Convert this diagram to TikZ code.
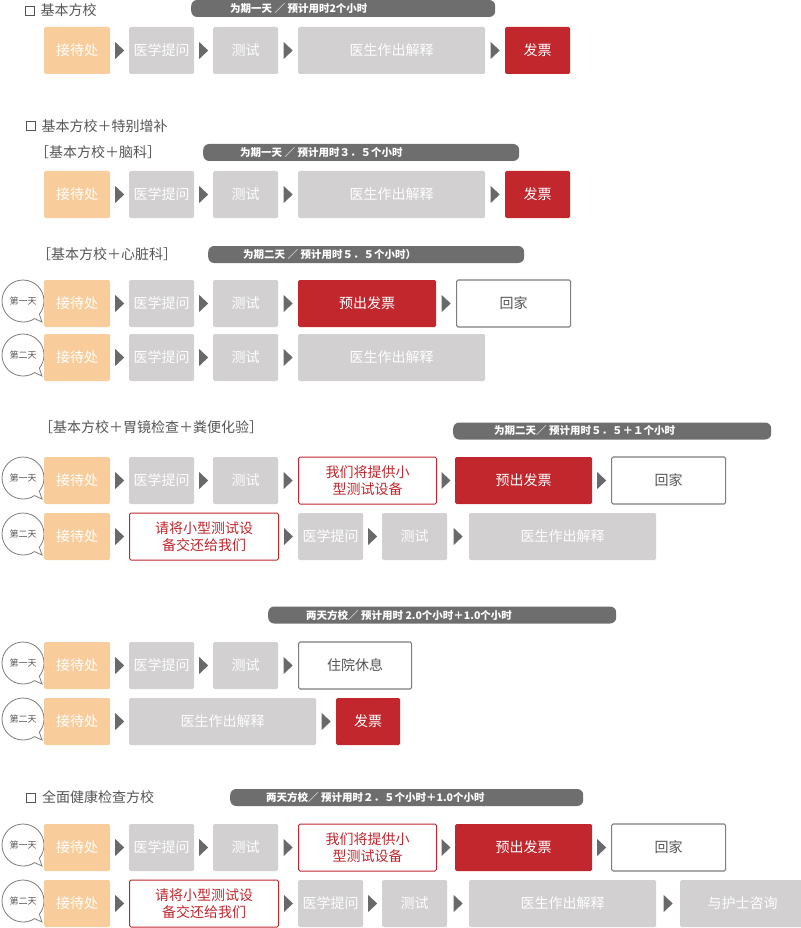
\documentclass[tikz,border=0pt]{standalone}
\usepackage{fontspec}
\setmainfont{Noto Sans CJK SC}
\usetikzlibrary{positioning, calc, shapes.callouts, decorations.markings}
\definecolor{peach}{RGB}{248,205,155}
\definecolor{boxgray}{RGB}{210,208,209}
\definecolor{invred}{RGB}{193,39,45}
\definecolor{pillgray}{RGB}{110,110,110}
\definecolor{tipgray}{RGB}{105,105,105}
\definecolor{framegray}{RGB}{125,125,125}
\definecolor{inkgray}{RGB}{85,85,85}

\begin{document}
\begin{tikzpicture}[x=1pt, y=-1pt,
    box/.style={rectangle, rounded corners=1.5pt, anchor=west, minimum height=47pt, inner sep=0pt, align=center, text=white, font=\fontsize{14}{16.5}\selectfont},
    recep/.style={box, fill=peach, minimum width=66pt},
    exam/.style={box, fill=boxgray},
    invoice/.style={box, fill=invred},
    homebox/.style={box, fill=white, draw=framegray, line width=1.1pt, text=inkgray},
    notebox/.style={box, fill=white, draw=invred, line width=1pt, text=invred},
    pill/.style={rectangle, rounded corners=6pt, fill=pillgray, anchor=west, minimum height=17pt, inner sep=0pt},
    pilltext/.style={anchor=west, inner sep=0pt, text=white, font=\fontsize{10.5}{12}\selectfont\bfseries},
    chk/.style={rectangle, draw=inkgray, line width=0.9pt, minimum size=9pt, inner sep=0pt},
    heading/.style={inner sep=0pt, text=inkgray, font=\fontsize{14}{16}\selectfont},
    daybubble/.style={ellipse callout, draw=framegray, fill=white, line width=0.8pt, minimum width=42pt, minimum height=42pt, inner sep=0pt, callout absolute pointer={(42,#1)}, callout pointer arc=18, text=inkgray, font=\fontsize{9}{10}\selectfont},
    arrow/.style={decoration={markings, mark=at position 0.5 with {\fill[tipgray] (-4.5pt,-8.5pt) -- (4.5pt,0pt) -- (-4.5pt,8.5pt) -- cycle;}}, decorate}
]
    \useasboundingbox (0,0) rectangle (800,928);

    % basic plan
    \node[chk] (h1) at (29.5,10.5) {};
    \node[heading, right=6pt of h1] {基本方校};
    \node[pill, minimum width=304pt] (p1) at (191,8.5) {};
    \node[pilltext] at ($(p1.west)+(39,0)$) {为期一天 ／ 预计用时2个小时};
    \node[recep] (aRec) at (44,50.5) {接待处};
    \node[exam, minimum width=65pt] (aAsk) at (129,50.5) {医学提问};
    \node[exam, minimum width=65pt] (aTest) at (213,50.5) {测试};
    \node[exam, minimum width=187pt] (aDoc) at (298,50.5) {医生作出解释};
    \node[invoice, minimum width=65pt] (aInv) at (505,50.5) {发票};
    \foreach \u/\v in {aRec/aAsk, aAsk/aTest, aTest/aDoc, aDoc/aInv}
        \path[arrow] (\u) -- (\v);

    % basic plan + brain
    \node[chk] (h2) at (30.5,126) {};
    \node[heading, right=6pt of h2] {基本方校＋特别增补};
    \node[heading, anchor=west] (h2a) at (35,152) {［基本方校＋脑科］};
    \node[pill, minimum width=316pt] (p2) at (203,152.5) {};
    \node[pilltext] at ($(p2.west)+(37,0)$) {为期一天 ／ 预计用时３．５个小时};
    \node[recep] (bRec) at (44,194.5) {接待处};
    \node[exam, minimum width=65pt] (bAsk) at (129,194.5) {医学提问};
    \node[exam, minimum width=65pt] (bTest) at (213,194.5) {测试};
    \node[exam, minimum width=187pt] (bDoc) at (298,194.5) {医生作出解释};
    \node[invoice, minimum width=65pt] (bInv) at (505,194.5) {发票};
    \foreach \u/\v in {bRec/bAsk, bAsk/bTest, bTest/bDoc, bDoc/bInv}
        \path[arrow] (\u) -- (\v);

    % basic plan + heart
    \node[heading, anchor=west] (h3a) at (37,254) {［基本方校＋心脏科］};
    \node[pill, minimum width=316pt] (p3) at (208,254.5) {};
    \node[pilltext] at ($(p3.west)+(35,0)$) {为期二天 ／ 预计用时５．５个小时）};
    \node[daybubble=322] (cDay1) at (23,301) {第一天};
    \node[recep] (cRec1) at (44,303.5) {接待处};
    \node[exam, minimum width=65pt] (cAsk1) at (129,303.5) {医学提问};
    \node[exam, minimum width=65pt] (cTest1) at (213,303.5) {测试};
    \node[invoice, minimum width=138pt] (cPre1) at (298,303.5) {预出发票};
    \node[homebox, minimum width=114pt] (cHome1) at (456,303.5) {回家};
    \node[daybubble=376] (cDay2) at (23,355) {第二天};
    \node[recep] (cRec2) at (44,357.5) {接待处};
    \node[exam, minimum width=65pt] (cAsk2) at (129,357.5) {医学提问};
    \node[exam, minimum width=65pt] (cTest2) at (213,357.5) {测试};
    \node[exam, minimum width=187pt] (cDoc2) at (298,357.5) {医生作出解释};
    \foreach \u/\v in {cRec1/cAsk1, cAsk1/cTest1, cTest1/cPre1, cPre1/cHome1,
                       cRec2/cAsk2, cAsk2/cTest2, cTest2/cDoc2}
        \path[arrow] (\u) -- (\v);

    % basic plan + gastroscopy + stool test
    \node[heading, anchor=west] (h4a) at (39,427) {［基本方校＋胃镜检查＋粪便化验］};
    \node[pill, minimum width=318pt] (p4) at (453,431) {};
    \node[pilltext] at ($(p4.west)+(41,0)$) {为期二天／ 预计用时５．５＋１个小时};
    \node[daybubble=499] (dDay1) at (23,478) {第一天};
    \node[recep] (dRec1) at (44,480.5) {接待处};
    \node[exam, minimum width=65pt] (dAsk1) at (129,480.5) {医学提问};
    \node[exam, minimum width=65pt] (dTest1) at (213,480.5) {测试};
    \node[notebox, minimum width=138pt] (dKit1) at (298,480.5) {我们将提供小\\型测试设备};
    \node[invoice, minimum width=137pt] (dPre1) at (455,480.5) {预出发票};
    \node[homebox, minimum width=114pt] (dHome1) at (611,480.5) {回家};
    \node[daybubble=555] (dDay2) at (23,534) {第二天};
    \node[recep] (dRec2) at (44,536.5) {接待处};
    \node[notebox, minimum width=149pt] (dKit2) at (129,536.5) {请将小型测试设\\备交还给我们};
    \node[exam, minimum width=65pt] (dAsk2) at (298,536.5) {医学提问};
    \node[exam, minimum width=65pt] (dTest2) at (382,536.5) {测试};
    \node[exam, minimum width=187pt] (dDoc2) at (469,536.5) {医生作出解释};
    \foreach \u/\v in {dRec1/dAsk1, dAsk1/dTest1, dTest1/dKit1, dKit1/dPre1, dPre1/dHome1,
                       dRec2/dKit2, dKit2/dAsk2, dAsk2/dTest2, dTest2/dDoc2}
        \path[arrow] (\u) -- (\v);

    % two-day plan
    \node[pill, minimum width=348pt] (p5) at (268,615) {};
    \node[pilltext] at ($(p5.west)+(38,0)$) {两天方校／ 预计用时 2.0个小时＋1.0个小时};
    \node[daybubble=684] (eDay1) at (23,663) {第一天};
    \node[recep] (eRec1) at (44,665.5) {接待处};
    \node[exam, minimum width=65pt] (eAsk1) at (129,665.5) {医学提问};
    \node[exam, minimum width=65pt] (eTest1) at (213,665.5) {测试};
    \node[homebox, minimum width=113pt] (eStay1) at (298,665.5) {住院休息};
    \node[daybubble=740] (eDay2) at (23,719) {第二天};
    \node[recep] (eRec2) at (44,721.5) {接待处};
    \node[exam, minimum width=187pt] (eDoc2) at (129,721.5) {医生作出解释};
    \node[invoice, minimum width=64pt] (eInv2) at (336,721.5) {发票};
    \foreach \u/\v in {eRec1/eAsk1, eAsk1/eTest1, eTest1/eStay1,
                       eRec2/eDoc2, eDoc2/eInv2}
        \path[arrow] (\u) -- (\v);

    % full check-up plan
    \node[chk] (h6) at (31,797.5) {};
    \node[heading, right=6pt of h6] {全面健康检查方校};
    \node[pill, minimum width=353pt] (p6) at (230,797.5) {};
    \node[pilltext] at ($(p6.west)+(36,0)$) {两天方校／ 预计用时２．５个小时＋1.0个小时};
    \node[daybubble=866] (fDay1) at (23,845) {第一天};
    \node[recep] (fRec1) at (44,847.5) {接待处};
    \node[exam, minimum width=65pt] (fAsk1) at (129,847.5) {医学提问};
    \node[exam, minimum width=65pt] (fTest1) at (213,847.5) {测试};
    \node[notebox, minimum width=138pt] (fKit1) at (298,847.5) {我们将提供小\\型测试设备};
    \node[invoice, minimum width=137pt] (fPre1) at (455,847.5) {预出发票};
    \node[homebox, minimum width=114pt] (fHome1) at (611,847.5) {回家};
    \node[daybubble=922] (fDay2) at (23,901) {第二天};
    \node[recep] (fRec2) at (44,903.5) {接待处};
    \node[notebox, minimum width=149pt] (fKit2) at (129,903.5) {请将小型测试设\\备交还给我们};
    \node[exam, minimum width=65pt] (fAsk2) at (298,903.5) {医学提问};
    \node[exam, minimum width=65pt] (fTest2) at (382,903.5) {测试};
    \node[exam, minimum width=187pt] (fDoc2) at (469,903.5) {医生作出解释};
    \node[exam, minimum width=125pt] (fNurse2) at (680,903.5) {与护士咨询};
    \foreach \u/\v in {fRec1/fAsk1, fAsk1/fTest1, fTest1/fKit1, fKit1/fPre1, fPre1/fHome1,
                       fRec2/fKit2, fKit2/fAsk2, fAsk2/fTest2, fTest2/fDoc2, fDoc2/fNurse2}
        \path[arrow] (\u) -- (\v);
\end{tikzpicture}
\end{document}
